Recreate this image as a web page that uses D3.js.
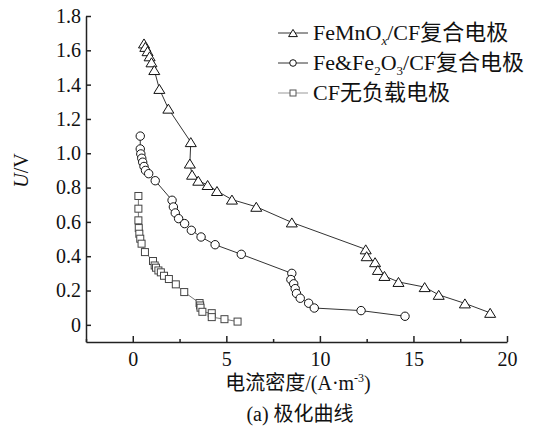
<!DOCTYPE html>
<html>
<head>
<meta charset="utf-8">
<script src="https://cdn.jsdelivr.net/npm/d3@7"></script>
<style>
  body { margin: 0; background: #fff; }
  text { font-family: "Liberation Serif", "Times New Roman", "Noto Sans CJK SC", serif; }
</style>
</head>
<body>
<div id="chart"></div>
<script>
// current density (A/m3), voltage (V)
const femnoxPoints = [
  [0.6, 1.64], [0.67, 1.62], [0.79, 1.595], [0.9, 1.565], [1.0, 1.53], [1.15, 1.485],
  [1.42, 1.375], [1.9, 1.26], [3.1, 1.065], [3.05, 0.94], [3.17, 0.875], [3.5, 0.84],
  [4.0, 0.815], [4.5, 0.78], [5.3, 0.73], [6.6, 0.688], [8.5, 0.597], [12.45, 0.44],
  [12.5, 0.40], [12.95, 0.365], [13.1, 0.32], [13.45, 0.285], [14.2, 0.25], [15.6, 0.22],
  [16.35, 0.175], [17.75, 0.125], [19.1, 0.07]
];
const feFe2o3Points = [
  [0.4, 1.10], [0.4, 1.025], [0.43, 0.996], [0.48, 0.971], [0.53, 0.948], [0.6, 0.923],
  [0.68, 0.90], [0.85, 0.881], [1.2, 0.84], [2.1, 0.726], [2.17, 0.687], [2.27, 0.652],
  [2.45, 0.619], [2.77, 0.59], [3.13, 0.551], [3.65, 0.512], [4.4, 0.467], [5.8, 0.411],
  [8.5, 0.30], [8.45, 0.264], [8.6, 0.239], [8.68, 0.211], [8.75, 0.183], [8.95, 0.155],
  [9.4, 0.126], [9.7, 0.098], [12.2, 0.083], [14.55, 0.05]
];
const cfPoints = [
  [0.3, 0.751], [0.3, 0.677], [0.3, 0.609], [0.32, 0.564], [0.35, 0.531], [0.4, 0.502],
  [0.47, 0.473], [0.65, 0.424], [1.08, 0.372], [1.17, 0.346], [1.24, 0.333], [1.37, 0.317],
  [1.5, 0.306], [1.67, 0.286], [1.93, 0.267], [2.3, 0.236], [2.75, 0.191], [3.57, 0.127],
  [3.6, 0.113], [3.62, 0.10], [3.72, 0.076], [4.22, 0.068], [4.22, 0.045], [4.9, 0.033],
  [5.6, 0.019]
];

const xTicks = [0, 5, 10, 15, 20];
const xMinorTicks = [-2.5, 2.5, 7.5, 12.5, 17.5];
const yTicks = [0, 0.2, 0.4, 0.6, 0.8, 1.0, 1.2, 1.4, 1.6, 1.8];

// legend labels split in pieces: [text, kind]
const legendLabels = [
  [["FeMnO", ""], ["x", "sub-italic"], ["/CF复合电极", ""]],
  [["Fe&Fe", ""], ["2", "sub"], ["O", ""], ["3", "sub"], ["/CF复合电极", ""]],
  [["CF无负载电极", ""]]
];

const width = 544;
const height = 437;
const fontSize = 20;
const serif = "'Liberation Serif', 'Times New Roman', 'Noto Sans CJK SC', serif";

const svg = d3.select("#chart").append("svg")
  .attr("width", width)
  .attr("height", height);

const x = d3.scaleLinear().domain([-2.5, 20]).range([86, 507]);
const y = d3.scaleLinear().domain([-0.1, 1.8]).range([342, 16]);

const fmt = d => (d === 0 ? "0" : d3.format(".1f")(d));

// axes
const xAxis = svg.append("g")
  .attr("transform", `translate(0,${y.range()[0]})`)
  .call(d3.axisBottom(x).tickValues(xTicks).tickSizeInner(-6).tickSizeOuter(0).tickPadding(6)
    .tickFormat(d => String(d)));

svg.append("g")
  .attr("transform", `translate(0,${y.range()[0]})`)
  .call(d3.axisBottom(x).tickValues(xMinorTicks).tickSizeInner(-3).tickSizeOuter(0).tickFormat(""))
  .call(g => g.select(".domain").remove())
  .selectAll("line").attr("stroke", "#222").attr("stroke-width", 1.5);

const yAxis = svg.append("g")
  .attr("transform", `translate(${x.range()[0]},0)`)
  .call(d3.axisLeft(y).tickValues(yTicks).tickSizeInner(-5).tickSizeOuter(0).tickPadding(5)
    .tickFormat(fmt));

[xAxis, yAxis].forEach(g => {
  g.attr("font-family", serif).attr("font-size", fontSize);
  g.selectAll("path, line").attr("stroke", "#222").attr("stroke-width", 1.5);
  g.selectAll("text").attr("fill", "#111").style("font-family", serif);
});
xAxis.selectAll("text").attr("dy", "0.9em");

// marker shapes
const triangle = s => `M0,${-s * 0.45}L${s * 0.55},${s * 0.45}L${-s * 0.55},${s * 0.45}Z`;

function drawSeries(points, shape, lineColor, markColor) {
  const line = d3.line().x(d => x(d[0])).y(d => y(d[1]));
  svg.append("path")
    .datum(points)
    .attr("fill", "none")
    .attr("stroke", lineColor)
    .attr("stroke-width", 1)
    .attr("d", line);

  const g = svg.append("g");
  if (shape === "triangle") {
    g.selectAll("path").data(points).join("path")
      .attr("d", triangle(10))
      .attr("transform", d => `translate(${x(d[0])},${y(d[1])})`)
      .attr("fill", "#fff").attr("stroke", markColor).attr("stroke-width", 1);
  } else if (shape === "circle") {
    g.selectAll("circle").data(points).join("circle")
      .attr("cx", d => x(d[0])).attr("cy", d => y(d[1])).attr("r", 4.2)
      .attr("fill", "#fff").attr("stroke", markColor).attr("stroke-width", 1);
  } else {
    g.selectAll("rect").data(points).join("rect")
      .attr("x", d => x(d[0]) - 3.5).attr("y", d => y(d[1]) - 3.5)
      .attr("width", 7).attr("height", 7)
      .attr("fill", "#fff").attr("stroke", markColor).attr("stroke-width", 1);
  } // if
}

drawSeries(cfPoints, "square", "#777", "#444");
drawSeries(feFe2o3Points, "circle", "#333", "#111");
drawSeries(femnoxPoints, "triangle", "#333", "#111");

// legend
const legendShapes = ["triangle", "circle", "square"];
const legendLineColors = ["#333", "#333", "#999"];
const legendMarkColors = ["#111", "#111", "#555"];

legendLabels.forEach((parts, i) => {
  const cy = 33 + i * 30;
  const g = svg.append("g").attr("transform", `translate(0,${cy})`);
  g.append("line")
    .attr("x1", 278).attr("x2", 308).attr("y1", 0).attr("y2", 0)
    .attr("stroke", legendLineColors[i]).attr("stroke-width", 1);
  const shape = legendShapes[i];
  if (shape === "triangle") {
    g.append("path").attr("d", triangle(8)).attr("transform", "translate(293,0)")
      .attr("fill", "#fff").attr("stroke", legendMarkColors[i]);
  } else if (shape === "circle") {
    g.append("circle").attr("cx", 293).attr("cy", 0).attr("r", 3.3)
      .attr("fill", "#fff").attr("stroke", legendMarkColors[i]);
  } else {
    g.append("rect").attr("x", 290).attr("y", -3).attr("width", 6).attr("height", 6)
      .attr("fill", "#fff").attr("stroke", legendMarkColors[i]);
  } // if

  const t = g.append("text")
    .attr("x", 313).attr("y", 7)
    .attr("font-size", 22).attr("fill", "#111");
  parts.forEach(([txt, kind]) => {
    const span = t.append("tspan").text(txt);
    if (kind.startsWith("sub")) {
      span.attr("font-size", 13).attr("dy", 5);
      if (kind === "sub-italic") span.attr("font-style", "italic");
    } else if (t.selectAll("tspan").size() > 1) {
      span.attr("dy", -5);
    } // if
  });
});

// axis titles
svg.append("text")
  .attr("transform", `translate(28,${y(0.9)}) rotate(-90)`)
  .attr("text-anchor", "middle")
  .attr("font-size", fontSize).attr("fill", "#111")
  .call(t => {
    t.append("tspan").attr("font-style", "italic").text("U");
    t.append("tspan").text("/V");
  });

svg.append("text")
  .attr("x", 298).attr("y", 390)
  .attr("text-anchor", "middle")
  .attr("font-size", fontSize).attr("fill", "#111")
  .call(t => {
    t.append("tspan").text("电流密度/(A·m");
    t.append("tspan").attr("font-size", 12).attr("dy", -8).text("-3");
    t.append("tspan").attr("dy", 8).text(")");
  });

svg.append("text")
  .attr("x", 300).attr("y", 421)
  .attr("text-anchor", "middle")
  .attr("font-size", fontSize).attr("fill", "#111")
  .text("(a) 极化曲线");
</script>
</body>
</html>
